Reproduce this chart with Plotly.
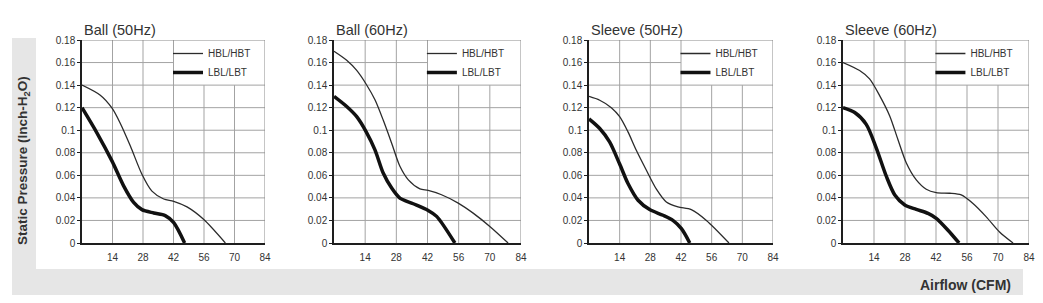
import plotly.graph_objects as go
from plotly.subplots import make_subplots

W, H = 1043, 303

titles = ["Ball (50Hz)", "Ball (60Hz)", "Sleeve (50Hz)", "Sleeve (60Hz)"]
series_names = ["HBL/HBT", "LBL/LBT"]

x_ticks = [14, 28, 42, 56, 70, 84]
y_ticks = [0, 0.02, 0.04, 0.06, 0.08, 0.1, 0.12, 0.14, 0.16, 0.18]
y_tick_text = ["0", "0.02", "0.04", "0.06", "0.08", "0.1", "0.12", "0.14", "0.16", "0.18"]

# Ball 50Hz
ball50_hbl_x = [0, 8.4, 13.8, 17.6, 22.2, 27.5, 32.1, 37.5, 42.1, 48.2, 55.8, 65.8]
ball50_hbl_y = [0.140, 0.131, 0.1195, 0.106, 0.086, 0.061, 0.046, 0.039, 0.037, 0.032, 0.021, 0.0]
ball50_lbl_x = [0, 6.9, 13.8, 19.1, 23.7, 27.5, 32.9, 38.2, 42.1, 47.1]
ball50_lbl_y = [0.120, 0.0975, 0.0726, 0.0507, 0.036, 0.0296, 0.0266, 0.0243, 0.018, 0.0]

# Ball 60Hz
ball60_hbl_x = [0, 5.7, 10.2, 14.4, 18.4, 22.1, 25.9, 29.6, 33.4, 38.6, 42.3, 48.3, 55.8, 62.5, 70.0, 78.2]
ball60_hbl_y = [0.170, 0.162, 0.153, 0.141, 0.127, 0.109, 0.0885, 0.068, 0.056, 0.048, 0.0466, 0.0428, 0.0354, 0.0265, 0.0147, 0.0]
ball60_lbl_x = [0, 5.7, 10.2, 14.4, 18.4, 22.1, 25.9, 29.6, 35.6, 42.3, 46.1, 54.3]
ball60_lbl_y = [0.130, 0.121, 0.112, 0.0988, 0.0826, 0.062, 0.0487, 0.0398, 0.0348, 0.0289, 0.0236, 0.0]

# Sleeve 50Hz
sleeve50_hbl_x = [0, 4.9, 10.2, 14.0, 17.8, 21.6, 26.2, 30.7, 35.3, 40.6, 46.7, 53.6, 63.9]
sleeve50_hbl_y = [0.130, 0.1266, 0.120, 0.112, 0.0985, 0.0822, 0.0645, 0.048, 0.0364, 0.032, 0.0296, 0.020, 0.0]
sleeve50_lbl_x = [0, 4.9, 9.4, 14.0, 17.8, 22.4, 27.7, 33.8, 38.3, 42.2, 46.0]
sleeve50_lbl_y = [0.110, 0.1015, 0.0896, 0.070, 0.0527, 0.0379, 0.0296, 0.0246, 0.0201, 0.0127, 0.0]

# Sleeve 60Hz
sleeve60_hbl_x = [0, 7.5, 12.0, 16.6, 21.1, 24.8, 28.6, 33.1, 37.6, 42.1, 48.2, 53.4, 58.7, 64.7, 70.7, 76.8]
sleeve60_hbl_y = [0.160, 0.1529, 0.1455, 0.1305, 0.1127, 0.0918, 0.071, 0.056, 0.0477, 0.0447, 0.0441, 0.0426, 0.035, 0.0232, 0.0098, 0.0]
sleeve60_lbl_x = [0, 5.3, 10.5, 15.0, 19.6, 23.4, 27.9, 33.1, 38.4, 42.1, 47.4, 52.4]
sleeve60_lbl_y = [0.120, 0.1157, 0.1052, 0.0844, 0.059, 0.0426, 0.0337, 0.0298, 0.0262, 0.0218, 0.0113, 0.0]

panels = [
    (ball50_hbl_x, ball50_hbl_y, ball50_lbl_x, ball50_lbl_y),
    (ball60_hbl_x, ball60_hbl_y, ball60_lbl_x, ball60_lbl_y),
    (sleeve50_hbl_x, sleeve50_hbl_y, sleeve50_lbl_x, sleeve50_lbl_y),
    (sleeve60_hbl_x, sleeve60_hbl_y, sleeve60_lbl_x, sleeve60_lbl_y),
]

X_MAX, Y_MAX = 84, 0.18
# corner region kept clear of grid lines for the legend
LEG_X0, LEG_Y0 = 42, 0.14

# pixel layout
px_left = [82, 334, 589, 843]
px_right = [265, 521, 773, 1029]
px_top, px_bottom = 40, 243

FONT = "Arial, Liberation Sans, Helvetica, sans-serif"
GRID = "#a3a3a3"
FRAME = "#8a8a8a"
AXIS = "#1e1e1e"
TEXT = "#333333"

fig = make_subplots(rows=1, cols=4)

legend_names = ["legend", "legend2", "legend3", "legend4"]

for i, (hx, hy, lx, ly) in enumerate(panels):
    col = i + 1
    fig.add_trace(go.Scatter(x=hx, y=hy, mode="lines", name=series_names[0],
                             line=dict(color="#2b2b2b", width=1.3, shape="spline", smoothing=0.8),
                             legend=legend_names[i], hoverinfo="skip"), row=1, col=col)
    fig.add_trace(go.Scatter(x=lx, y=ly, mode="lines", name=series_names[1],
                             line=dict(color="#111111", width=3.5, shape="spline", smoothing=0.8),
                             legend=legend_names[i], hoverinfo="skip"), row=1, col=col)

layout = dict(
    width=W, height=H,
    margin=dict(l=0, r=0, t=0, b=0, pad=0, autoexpand=False),
    paper_bgcolor="white", plot_bgcolor="white",
    font=dict(family=FONT, size=10, color=TEXT),
    shapes=[], annotations=[],
)

# gray L-shaped band (drawn first, under everything)
layout["shapes"].append(dict(type="rect", xref="paper", yref="paper",
                             x0=12 / W, x1=36 / W, y0=1 - 295 / H, y1=1 - 38 / H,
                             fillcolor="#e6e6e6", line=dict(width=0), layer="below"))
layout["shapes"].append(dict(type="rect", xref="paper", yref="paper",
                             x0=12 / W, x1=1023 / W, y0=1 - 295 / H, y1=1 - 269 / H,
                             fillcolor="#e6e6e6", line=dict(width=0), layer="below"))

for i in range(4):
    sfx = "" if i == 0 else str(i + 1)
    xr, yr = "x" + sfx, "y" + sfx
    xd = [px_left[i] / W, px_right[i] / W]
    yd = [1 - px_bottom / H, 1 - px_top / H]
    layout["xaxis" + sfx] = dict(
        domain=xd, range=[0, X_MAX], tickvals=x_ticks, ticktext=[str(v) for v in x_ticks],
        showgrid=False, zeroline=False, automargin=False,
        showline=True, linecolor=AXIS, linewidth=2,
        ticks="outside", ticklen=4, tickcolor="rgba(0,0,0,0)",
        tickfont=dict(family=FONT, size=10, color=TEXT), fixedrange=True,
    )
    layout["yaxis" + sfx] = dict(
        domain=yd, range=[0, Y_MAX], tickvals=y_ticks, ticktext=y_tick_text,
        showgrid=False, zeroline=False, automargin=False,
        showline=True, linecolor=AXIS, linewidth=1.5, ticks="outside", ticklen=3,
        tickcolor=AXIS, tickfont=dict(family=FONT, size=10, color=TEXT), fixedrange=True,
    )
    # grid lines, kept out of the legend corner
    for xv in x_ticks:
        if xv >= X_MAX:
            continue
        top = LEG_Y0 if xv > LEG_X0 else Y_MAX
        layout["shapes"].append(dict(type="line", xref=xr, yref=yr, x0=xv, x1=xv, y0=0, y1=top,
                                     line=dict(color=GRID, width=1), layer="below"))
    for yv in y_ticks:
        if yv <= 0 or yv >= Y_MAX:
            continue
        right = LEG_X0 if yv > LEG_Y0 else X_MAX
        layout["shapes"].append(dict(type="line", xref=xr, yref=yr, x0=0, x1=right, y0=yv, y1=yv,
                                     line=dict(color=GRID, width=1), layer="below"))
    # top and right frame
    layout["shapes"].append(dict(type="line", xref=xr, yref=yr, x0=0, x1=X_MAX, y0=Y_MAX, y1=Y_MAX,
                                 line=dict(color=FRAME, width=1), layer="below"))
    layout["shapes"].append(dict(type="line", xref=xr, yref=yr, x0=X_MAX, x1=X_MAX, y0=0, y1=Y_MAX,
                                 line=dict(color=FRAME, width=1), layer="below"))
    # panel title
    layout["annotations"].append(dict(text=titles[i], xref=xr + " domain", yref="paper",
                                      x=0, y=1 - 30 / H, xanchor="left", yanchor="middle",
                                      showarrow=False, font=dict(family=FONT, size=14.5, color=TEXT)))
    # legend
    layout[legend_names[i]] = dict(
        x=(px_left[i] + 0.47 * (px_right[i] - px_left[i])) / W,
        y=1 - 39 / H, xanchor="left", yanchor="top", xref="paper", yref="paper",
        bgcolor="rgba(0,0,0,0)", borderwidth=0,
        font=dict(family=FONT, size=10, color=TEXT),
        tracegroupgap=0, itemclick=False, itemdoubleclick=False,
    )

layout["annotations"].append(dict(text="<b>Static Pressure (Inch-H<sub>2</sub>O)</b>", xref="paper", yref="paper",
                                  x=23 / W, y=1 - 161 / H, xanchor="center", yanchor="middle",
                                  textangle=-90, showarrow=False,
                                  font=dict(family=FONT, size=13.5, color=TEXT)))
layout["annotations"].append(dict(text="<b>Airflow (CFM)</b>", xref="paper", yref="paper",
                                  x=1013 / W, y=1 - 285 / H, xanchor="right", yanchor="middle",
                                  showarrow=False, font=dict(family=FONT, size=14, color=TEXT)))

fig.update_layout(**layout)
fig.write_html("out.html")
